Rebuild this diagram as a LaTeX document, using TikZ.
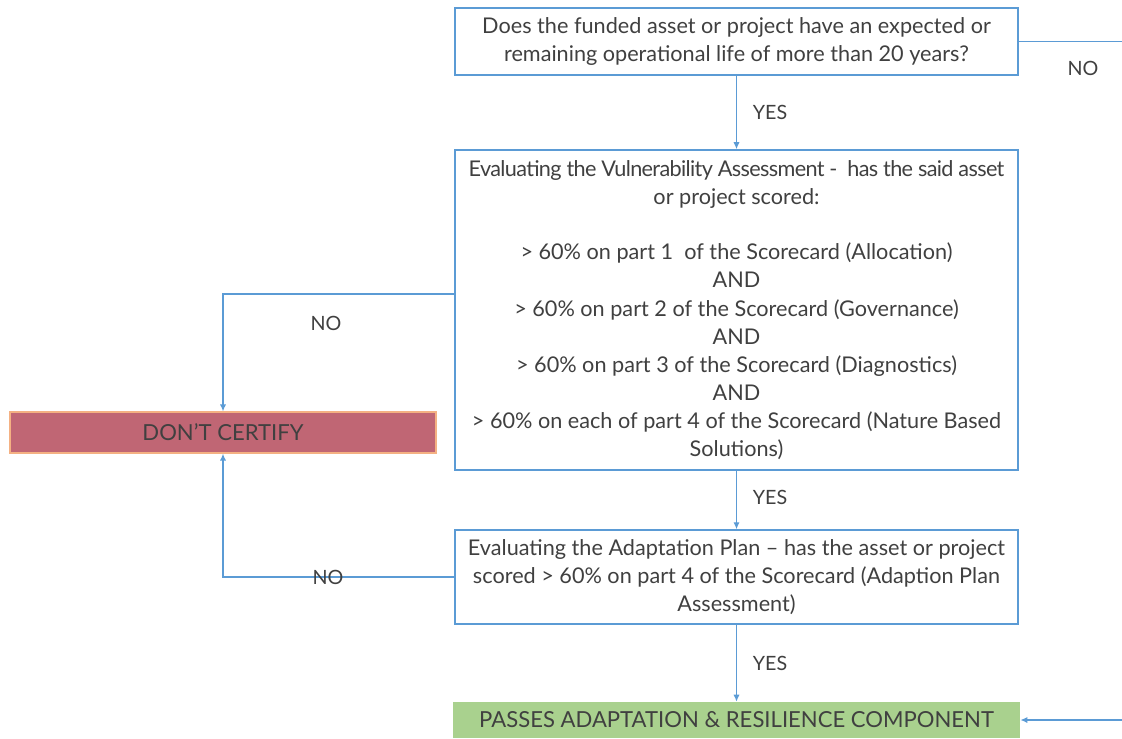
\documentclass[tikz,border=0pt]{standalone}
\usepackage{fontspec}
\setmainfont{Lato}
\usetikzlibrary{arrows.meta}
\definecolor{flowblue}{HTML}{5B9BD5}
\definecolor{txtgray}{HTML}{404040}
\definecolor{nopink}{HTML}{C06674}
\definecolor{noedge}{HTML}{F4B183}
\definecolor{yesgreen}{HTML}{A9D18E}
\begin{document}
\begin{tikzpicture}[x=0.025cm, y=-0.025cm,
        qbox/.style={rectangle, draw=flowblue, line width=1pt, fill=white, minimum width=14.075cm, inner xsep=1pt, align=center, text=txtgray, font=\fontsize{15.4}{20}\selectfont},
        endbox/.style={rectangle, align=center, text=txtgray, font=\fontsize{15.7}{18}\selectfont},
        lbl/.style={text=txtgray, font=\fontsize{14}{17}\selectfont},
        flow/.style={draw=flowblue, line width=1pt, -{Latex[length=5pt,width=4.5pt]}}
    ]
    \useasboundingbox (0,0) rectangle (1122,738);
    \node[qbox, minimum height=1.675cm] (life) at (736.5,41.5) {
        Does the funded asset or project have an expected or\\
        remaining operational life of more than 20 years?
    };
    \node[qbox, minimum height=8cm] (vuln) at (736.5,310) {
        {\addfontfeature{LetterSpace=-3}Evaluating the Vulnerability Assessment -\ \ has the said asset}\\
        or project scored:\\[19.6pt]
        > 60\% on part 1\ \ of the Scorecard (Allocation)\\
        AND\\
        > 60\% on part 2 of the Scorecard (Governance)\\
        AND\\
        > 60\% on part 3 of the Scorecard (Diagnostics)\\
        AND\\
        > 60\% on each of part 4 of the Scorecard (Nature Based\\
        Solutions)
    };
    \node[qbox, minimum height=2.35cm] (plan) at (736.5,577) {
        Evaluating the Adaptation Plan -- has the asset or project\\
        scored > 60\% on part 4 of the Scorecard (Adaption Plan\\
        Assessment)
    };
    \node[endbox, draw=noedge, fill=nopink, line width=0.8pt, minimum width=10.65cm, minimum height=1.025cm] (nocert) at (223,432.5) {DON'T CERTIFY};
    \node[endbox, fill=yesgreen, minimum width=14.175cm, minimum height=0.9cm] (pass) at (736.5,720) {PASSES ADAPTATION \& RESILIENCE COMPONENT};
    \coordinate (noend) at (1122,41.5);
    \coordinate (passin) at (1122,720);
    % yes branch
    \draw[flow] (life) -- (vuln);
    \draw[flow] (vuln) -- (plan);
    \draw[flow] (plan) -- (pass);
    \draw[flow] (passin) -- (pass.east);
    % no branch
    \draw[flow, -] (life.east) -- (noend);
    \draw[flow] ([yshift=11.3pt]vuln.west) -| (nocert.north);
    \draw[flow] (plan.west) -| (nocert.south);
    \node[lbl] (yesa) at (770,112) {YES};
    \node[lbl] (yesb) at (770,497) {YES};
    \node[lbl] (yesc) at (770,663) {YES};
    \node[lbl] (noa) at (1083,68) {NO};
    \node[lbl] (nob) at (326,323) {NO};
    \node[lbl] (noc) at (328,577) {NO};
\end{tikzpicture}
\end{document}
